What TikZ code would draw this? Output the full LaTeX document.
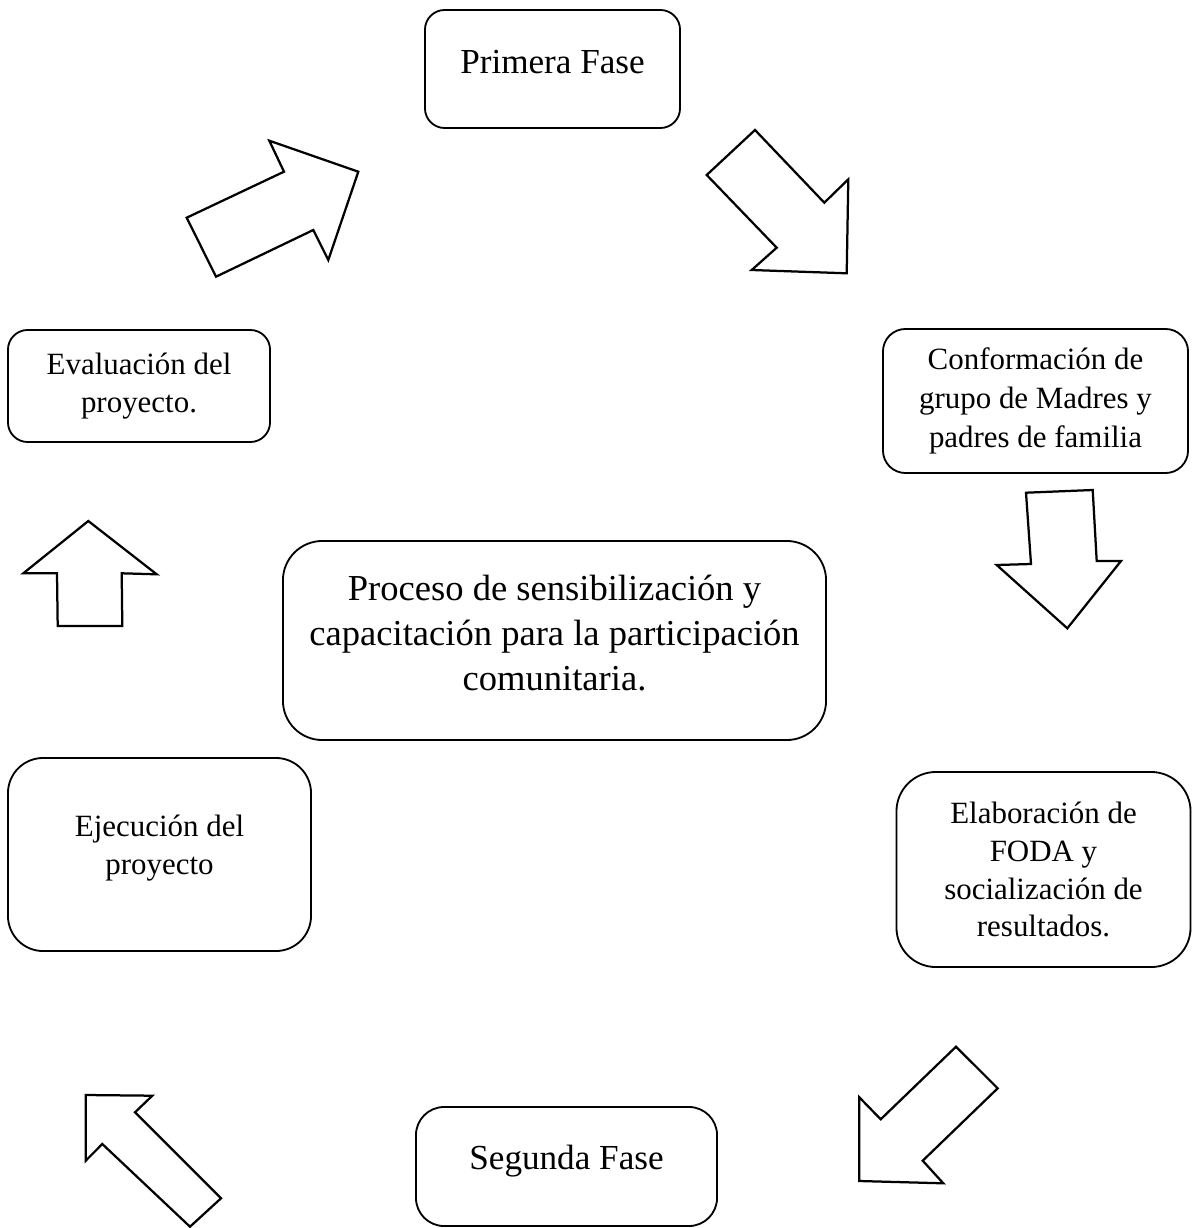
\documentclass[tikz,border=0pt]{standalone}
\usepackage{fontspec}
\setmainfont{Liberation Serif}
\usetikzlibrary{positioning}

\tikzset{
  phase/.style={draw, line width=1.3pt, rounded corners=14pt, align=center, inner sep=0pt,
    font=\fontsize{25}{30}\selectfont},
  stepbox/.style={draw, line width=1.3pt, rounded corners=16pt, align=center, inner sep=0pt,
    font=\fontsize{22}{27}\selectfont},
  corebox/.style={draw, line width=1.3pt, rounded corners=28pt, align=center, inner sep=0pt,
    font=\fontsize{26}{32}\selectfont},
  blockarrow/.style={draw, line width=1.6pt, line join=miter, fill=white}
}

\begin{document}
\begin{tikzpicture}[x=0.025cm, y=-0.025cm]
  \useasboundingbox (0,0) rectangle (1192,1228);

  % Phase boxes
  \node[phase, text depth=10pt, minimum width=6.375cm, minimum height=2.95cm] (fase1) at (552.5,69) {Primera Fase};
  \node[phase, text depth=12.5pt, rounded corners=20pt, minimum width=7.525cm, minimum height=2.975cm] (fase2) at (566.5,1166.5) {Segunda Fase};

  % Steps of the cycle
  \node[stepbox, font=\fontsize{22}{28}\selectfont, minimum width=7.625cm, minimum height=3.6cm] (grupo) at (1035.5,401) {Conformación de\\grupo de Madres y\\padres de familia};
  \node[stepbox, rounded corners=28pt, minimum width=7.35cm, minimum height=4.875cm] (foda) at (1043.5,869.5) {Elaboración de\\FODA y\\socialización de\\resultados.};
  \node[stepbox, text depth=13.5pt, rounded corners=25pt, minimum width=7.575cm, minimum height=4.825cm] (ejec) at (159.5,854.5) {Ejecución del\\proyecto};
  \node[stepbox, rounded corners=14pt, minimum width=6.55cm, minimum height=2.8cm] (eval) at (139,386) {Evaluación del\\proyecto.};

  % Central process
  \node[corebox, text depth=11.5pt, minimum width=13.575cm, minimum height=4.975cm] (proceso) at (554.5,640.5) {Proceso de sensibilización y\\capacitación para la participación\\comunitaria.};

  % Block arrows around the cycle
  % eval -> fase1
  \draw[blockarrow] (269.3,140.7) -- (358.3,171.7) -- (328.3,260) -- (313.3,230) -- (216,276.7) -- (186.7,217.7) -- (284,171.7) -- cycle;
  % fase1 -> grupo
  \draw[blockarrow] (755,130) -- (824.3,202.7) -- (848.3,179.3) -- (846.7,273.3) -- (751.7,270) -- (776.7,247.7) -- (706.7,175) -- cycle;
  % grupo -> foda
  \draw[blockarrow] (1026,492.7) -- (1092.7,490) -- (1096.7,561) -- (1121,561) -- (1067.3,628.3) -- (996.7,565) -- (1031,564) -- cycle;
  % foda -> fase2
  \draw[blockarrow] (956,1046.7) -- (997.7,1088.3) -- (922.7,1160.7) -- (943.3,1183.3) -- (859.3,1181) -- (859.3,1097.3) -- (880.7,1119.3) -- cycle;
  % fase2 -> ejec
  \draw[blockarrow] (85.7,1095) -- (152.3,1095.7) -- (135,1112.3) -- (221,1198.3) -- (190,1226.7) -- (102.3,1144) -- (85.7,1160.7) -- cycle;
  % ejec -> eval
  \draw[blockarrow] (88.3,521) -- (156.7,574.3) -- (121.7,573.3) -- (122.3,626) -- (57.7,626) -- (57,573.3) -- (23.3,573.3) -- cycle;
\end{tikzpicture}
\end{document}
